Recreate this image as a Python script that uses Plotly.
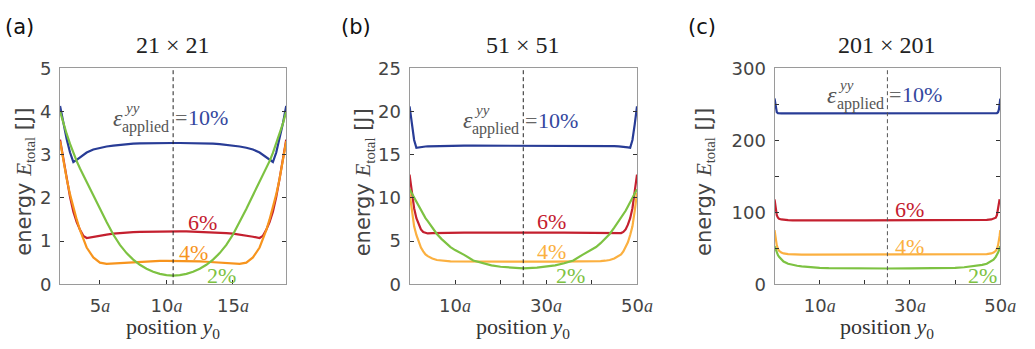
import plotly.graph_objects as go

W, H = 1035, 349

# ---------------- data ----------------
# panel (a): 21 x 21
xa = [2, 2.25, 2.5, 2.75, 3, 3.25, 3.5, 3.75, 4, 4.5, 5, 5.5, 6, 6.5, 7, 7.5, 8, 8.5, 9, 9.5, 10,
      10.5,
      11, 11.5, 12, 12.5, 13, 13.5, 14, 14.5, 15, 15.5, 16, 16.5, 17, 17.25, 17.5, 17.75, 18, 18.25, 18.5, 18.75, 19]
a_10 = [4.13, 3.72, 3.36, 3.05, 2.83, 2.88, 2.94, 3.00, 3.05, 3.12, 3.16, 3.19, 3.21, 3.23, 3.245, 3.255, 3.26, 3.265, 3.27, 3.27, 3.27,
        3.27,
        3.27, 3.27, 3.27, 3.265, 3.26, 3.255, 3.245, 3.23, 3.21, 3.19, 3.16, 3.12, 3.05, 3.00, 2.94, 2.88, 2.83, 3.05, 3.36, 3.72, 4.13]
a_6 = [3.35, 2.88, 2.44, 2.02, 1.68, 1.44, 1.26, 1.12, 1.07, 1.10, 1.13, 1.15, 1.17, 1.185, 1.195, 1.205, 1.21, 1.215, 1.22, 1.225, 1.225,
       1.225,
       1.225, 1.225, 1.22, 1.215, 1.21, 1.205, 1.195, 1.185, 1.17, 1.15, 1.13, 1.10, 1.07, 1.12, 1.26, 1.44, 1.68, 2.02, 2.44, 2.88, 3.35]
a_4 = [3.31, 2.85, 2.44, 2.08, 1.78, 1.50, 1.25, 1.03, 0.85, 0.62, 0.50, 0.47, 0.48, 0.49, 0.50, 0.51, 0.52, 0.53, 0.535, 0.54, 0.54,
       0.54,
       0.54, 0.54, 0.535, 0.53, 0.52, 0.51, 0.50, 0.49, 0.48, 0.47, 0.50, 0.62, 0.85, 1.03, 1.25, 1.50, 1.78, 2.08, 2.44, 2.85, 3.31]
a_2 = [4.00, 3.72, 3.48, 3.25, 3.04, 2.85, 2.68, 2.52, 2.37, 2.06, 1.74, 1.44, 1.15, 0.91, 0.72, 0.57, 0.45, 0.36, 0.29, 0.24, 0.21,
       0.20,
       0.21, 0.24, 0.29, 0.36, 0.45, 0.57, 0.72, 0.91, 1.15, 1.44, 1.74, 2.06, 2.37, 2.52, 2.68, 2.85, 3.04, 3.25, 3.48, 3.72, 4.00]

# panel (b): 51 x 51
xb = [0, 0.5, 1, 1.5, 2, 2.5, 3, 3.5, 4, 5, 6, 7, 8, 9, 10, 12, 14, 16, 18, 20, 22,
      25,
      28, 30, 32, 34, 36, 38, 40, 41, 42, 43, 44, 45, 46, 46.5, 47, 47.5, 48, 48.5, 49, 49.5, 50]
b_10 = [20.6, 18.5, 16.7, 15.8, 15.85, 15.9, 15.93, 15.95, 15.96, 15.98, 16.0, 16.01, 16.02, 16.03, 16.03, 16.04, 16.05, 16.05, 16.05, 16.05, 16.05,
        16.05,
        16.05, 16.05, 16.05, 16.05, 16.05, 16.04, 16.03, 16.03, 16.02, 16.01, 16.0, 15.98, 15.96, 15.95, 15.93, 15.9, 15.85, 15.8, 16.7, 18.5, 20.6]
b_6 = [12.7, 10.5, 8.8, 7.65, 6.9, 6.35, 6.05, 5.92, 5.88, 5.91, 5.93, 5.94, 5.95, 5.96, 5.96, 5.97, 5.97, 5.98, 5.98, 5.98, 5.98,
       5.98,
       5.98, 5.98, 5.98, 5.98, 5.97, 5.97, 5.96, 5.96, 5.95, 5.94, 5.93, 5.91, 5.88, 5.92, 6.05, 6.35, 6.9, 7.65, 8.8, 10.5, 12.7]
b_4 = [10.6, 8.5, 6.7, 5.7, 4.85, 4.25, 3.8, 3.45, 3.25, 2.97, 2.8, 2.72, 2.67, 2.64, 2.63, 2.62, 2.62, 2.62, 2.62, 2.62, 2.62,
       2.62,
       2.62, 2.62, 2.62, 2.62, 2.62, 2.62, 2.63, 2.64, 2.67, 2.72, 2.8, 2.97, 3.25, 3.45, 3.8, 4.25, 4.85, 5.7, 6.7, 8.5, 10.6]
b_2 = [11.0, 10.5, 10.0, 9.5, 9.0, 8.5, 8.05, 7.65, 7.3, 6.55, 5.82, 5.25, 4.75, 4.3, 3.95, 3.4, 2.75, 2.42, 2.18, 2.02, 1.92,
       1.83,
       1.92, 2.02, 2.18, 2.42, 2.75, 3.4, 3.95, 4.3, 4.75, 5.25, 5.82, 6.55, 7.3, 7.65, 8.05, 8.5, 9.0, 9.5, 10.0, 10.5, 11.0]

# panel (c): 201 x 201
xc = [0, 0.15, 0.3, 0.5, 0.75, 1, 1.5, 2, 3, 4, 5, 6, 8, 10, 12, 15, 20,
      25,
      30, 35, 38, 40, 42, 44, 45, 46, 47, 48, 48.5, 49, 49.25, 49.5, 49.7, 49.85, 50]
c_10 = [258, 250, 243, 239, 237.8, 237.5, 237.5, 237.5, 237.5, 237.5, 237.5, 237.5, 237.5, 237.5, 237.5, 237.5, 237.5,
        237.5,
        237.5, 237.5, 237.5, 237.5, 237.5, 237.5, 237.5, 237.5, 237.5, 237.5, 237.5, 237.5, 237.8, 239, 243, 250, 258]
c_6 = [118, 110, 104, 96, 92.5, 91, 90, 89.4, 89.0, 88.8, 88.7, 88.7, 88.7, 88.7, 88.7, 88.7, 88.7,
       88.7,
       88.7, 88.7, 88.7, 88.7, 88.7, 88.7, 88.8, 89.0, 89.4, 90, 91, 92.5, 96, 104, 110, 118]
c_4 = [75, 67, 60, 54, 49, 46.5, 44, 42.8, 41.8, 41.4, 41.2, 41.0, 41.0, 41.0, 41.0, 41.0, 41.0,
       41.0,
       41.0, 41.0, 41.0, 41.0, 41.0, 41.0, 41.2, 41.4, 41.8, 42.8, 44, 46.5, 49, 54, 60, 67, 75]
c_2 = [53, 50, 47, 44, 40.5, 38, 34, 31.5, 28.5, 26.8, 25.6, 24.8, 23.6, 22.8, 22.4, 22.1, 21.9,
       21.8,
       21.9, 22.1, 22.4, 22.8, 23.6, 24.8, 25.6, 26.8, 28.5, 31.5, 34, 38, 40.5, 44, 47, 50, 53]

titles = ["21 × 21", "51 × 51", "201 × 201"]
panel_tags = ["(a)", "(b)", "(c)"]
strain_labels = ["10%", "6%", "4%", "2%"]
centers = [10.5, 25, 25]

# ---------------- style ----------------
BLUE, RED, GREEN = "#283C96", "#C4202F", "#7DC242"
ORANGES = ["#F7941D", "#FBB040", "#FBB040"]
SERIF = "Liberation Serif"
SANS = "DejaVu Sans"

# plot areas in pixels (left, right), shared (top, bottom)
px_x = [(61, 290.7), (416, 647), (786.7, 1016)]
py_top, py_bot = 61, 290.7


def fx(px):
    return px / W


def fy(py):
    return 1 - py / H


def a_lab(n):
    return f"{n}<span style='font-family:{SERIF}'><i>a</i></span>"


xs = [xa, xb, xc]
ys = [[a_10, a_6, a_4, a_2], [b_10, b_6, b_4, b_2], [c_10, c_6, c_4, c_2]]
xranges = [[2, 19], [0, 50], [0, 50]]
yranges = [[0, 5], [0, 25], [0, 300]]
xtickvals = [[5, 10, 15], [10, 30, 50], [10, 30, 50]]
xticktext = [[a_lab(v) for v in tv] for tv in xtickvals]
xminor = [[], [20, 40], [20, 40]]
ytickvals = [[0, 1, 2, 3, 4, 5], [0, 5, 10, 15, 20, 25], [0, 100, 200, 300]]
yminor = [[], [], [50, 150, 250]]

# label positions in data coordinates
eq_pos = [(11.07, 3.86), (26.6, 19.0), (26.7, 263.4)]
lab6 = [(12.68, 1.43), (31.2, 7.26), (29.8, 103.2)]
lab4 = [(12.0, 0.73), (31.2, 3.81), (29.8, 52.2)]
lab2 = [(14.12, 0.20), (35.3, 0.98), (46.1, 11.8)]

fig = go.Figure()
annotations = []
shapes = []
layout = {}
MID = dict(xanchor="center", yanchor="middle", showarrow=False)
TICKSTYLE = dict(ticks="inside", ticklen=4, tickcolor="#333333", tickwidth=1)

for i in range(3):
    sfx = "" if i == 0 else str(i + 1)
    xname, yname = "x" + sfx, "y" + sfx
    colors = [BLUE, RED, ORANGES[i], GREEN]
    for yv, col in zip(ys[i], colors):
        fig.add_trace(go.Scatter(x=xs[i], y=yv, mode="lines", xaxis=xname, yaxis=yname,
                                 line=dict(color=col, width=2.2), showlegend=False, hoverinfo="skip"))
    l, r = px_x[i]
    xax = dict(
        domain=[fx(l), fx(r)], anchor=yname, range=xranges[i],
        showline=True, linecolor="#9a9a9a", linewidth=1, mirror=True,
        tickvals=xtickvals[i], ticktext=xticktext[i], ticklabelstandoff=5,
        tickfont=dict(family=SANS, size=18, color="#444444"),
        showgrid=False, zeroline=False, fixedrange=True, **TICKSTYLE)
    if xminor[i]:
        xax["minor"] = dict(tickvals=xminor[i], showgrid=False, **TICKSTYLE)
    yax = dict(
        domain=[fy(py_bot), fy(py_top)], anchor=xname, range=yranges[i],
        showline=True, linecolor="#9a9a9a", linewidth=1, mirror="ticks",
        tickvals=ytickvals[i], ticklabelstandoff=4,
        tickfont=dict(family=SANS, size=18, color="#444444"),
        showgrid=False, zeroline=False, fixedrange=True, **TICKSTYLE)
    if yminor[i]:
        yax["minor"] = dict(tickvals=yminor[i], showgrid=False, **TICKSTYLE)
    layout["xaxis" + sfx] = xax
    layout["yaxis" + sfx] = yax

    # dashed centre line
    shapes.append(dict(type="line", xref=xname, yref=yname + " domain", x0=centers[i], x1=centers[i],
                       y0=0, y1=1, line=dict(color="#222222" if i < 2 else "#555555", width=1, dash="4px,3px")))

    cx = (l + r) / 2
    # panel title
    annotations.append(dict(text=titles[i], xref="paper", yref="paper", x=fx(cx), y=fy(36),
                            font=dict(family=SERIF, size=24, color="#222222"), **MID))
    # panel tag
    tag_px = [20, 362, 713][i]
    annotations.append(dict(text=panel_tags[i], xref="paper", yref="paper", x=fx(tag_px), y=fy(17.5),
                            font=dict(family=SANS, size=21, color="#111111"), **MID))
    # x title
    annotations.append(dict(text="position <i>y</i><sub>0</sub>", xref="paper", yref="paper",
                            x=fx(cx), y=fy(337), font=dict(family=SERIF, size=22, color="#333333"), **MID))
    # y title
    ytx = [25, 370, 716][i]
    annotations.append(dict(
        text=f"energy <span style='font-family:{SERIF}'><i>E</i><sub>total</sub></span> [J]",
        xref="paper", yref="paper", x=fx(ytx), y=fy(182), textangle=-90,
        font=dict(family=SANS, size=21, color="#444444"), **MID))

    # strain label epsilon^yy_applied = 10%
    ex, ey = eq_pos[i]
    common = dict(xref=xname, yref=yname, x=ex, y=ey, **MID)
    annotations.append(dict(text="=", font=dict(family=SERIF, size=22, color="#666666"), **common))
    annotations.append(dict(text="<i>ε</i>", xshift=-63, font=dict(family=SERIF, size=24, color="#555555"), **common))
    annotations.append(dict(text="<i>yy</i>", xshift=-49, yshift=10,
                            font=dict(family=SERIF, size=15, color="#555555"), **common))
    annotations.append(dict(text="applied", xshift=-35, yshift=-9,
                            font=dict(family=SERIF, size=16, color="#555555"), **common))
    annotations.append(dict(text=strain_labels[0], xshift=27, font=dict(family=SERIF, size=22, color="#34479E"), **common))

    for (lx, ly), txt, col in [(lab6[i], strain_labels[1], RED), (lab4[i], strain_labels[2], ORANGES[i]),
                               (lab2[i], strain_labels[3], GREEN)]:
        annotations.append(dict(text=txt, xref=xname, yref=yname, x=lx, y=ly,
                                font=dict(family=SERIF, size=22, color=col), **MID))

fig.update_layout(width=W, height=H, margin=dict(l=0, r=0, t=0, b=0),
                  paper_bgcolor="white", plot_bgcolor="white",
                  annotations=annotations, shapes=shapes, showlegend=False, **layout)

fig.write_html("out.html", config={"displayModeBar": False})
